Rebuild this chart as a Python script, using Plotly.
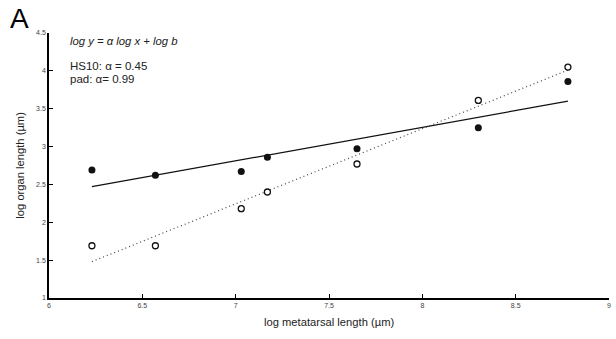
import plotly.graph_objects as go

metatarsal = [6.23, 6.57, 7.03, 7.17, 7.65, 8.30, 8.78]
hs10 = [2.69, 2.62, 2.67, 2.86, 2.97, 3.25, 3.86]
pad = [1.69, 1.69, 2.18, 2.40, 2.77, 3.61, 4.05]

fit_x = [6.23, 8.78]
hs10_fit = [2.47, 3.60]
pad_fit = [1.48, 4.01]

FONT = "Liberation Sans, Arial, sans-serif"

fig = go.Figure()
fig.add_trace(go.Scatter(x=fit_x, y=hs10_fit, mode="lines",
                         line=dict(color="#111111", width=1.2), showlegend=False))
fig.add_trace(go.Scatter(x=fit_x, y=pad_fit, mode="lines",
                         line=dict(color="#444444", width=1.2, dash="1px,3px"), showlegend=False))
fig.add_trace(go.Scatter(x=metatarsal, y=hs10, mode="markers",
                         marker=dict(color="#111111", size=7, line=dict(width=0)),
                         showlegend=False))
fig.add_trace(go.Scatter(x=metatarsal, y=pad, mode="markers",
                         marker=dict(color="white", size=6, line=dict(color="#111111", width=1.3)),
                         showlegend=False))

axis_common = dict(showline=True, linecolor="black", linewidth=1.5, ticks="inside",
                   ticklen=4, tickcolor="black", tickwidth=1, showgrid=False,
                   zeroline=False, ticklabeloverflow="allow",
                   tickfont=dict(size=7, color="#444444", family=FONT))
fig.update_xaxes(range=[6, 9], tickvals=[6, 6.5, 7, 7.5, 8, 8.5, 9], **axis_common)
fig.update_yaxes(range=[1, 4.5], tickvals=[1, 1.5, 2, 2.5, 3, 3.5, 4, 4.5], **axis_common)

fig.update_layout(
    width=616, height=339,
    margin=dict(l=49, r=4.5, t=33, b=41),
    plot_bgcolor="white", paper_bgcolor="white",
    font=dict(family=FONT, color="#222222"),
    annotations=[
        dict(text="A", x=-0.0729, y=1.053, xref="paper", yref="paper", showarrow=False,
             xanchor="left", yanchor="middle", font=dict(size=28, color="black", family=FONT)),
        dict(text="<i>log y = α log x + log b</i>", x=6.10, y=4.40, xref="x", yref="y",
             showarrow=False, xanchor="left", yanchor="middle", font=dict(size=11.3, family=FONT)),
        dict(text="HS10: α = 0.45", x=6.10, y=4.065, xref="x", yref="y",
             showarrow=False, xanchor="left", yanchor="middle", font=dict(size=11.5, family=FONT)),
        dict(text="pad: α= 0.99", x=6.10, y=3.893, xref="x", yref="y",
             showarrow=False, xanchor="left", yanchor="middle", font=dict(size=11.5, family=FONT)),
        dict(text="log metatarsal length (µm)", x=0.5, y=-0.089, xref="paper", yref="paper",
             showarrow=False, xanchor="center", yanchor="middle", font=dict(size=11.2, family=FONT)),
        dict(text="log organ length (µm)", x=-0.0533, y=0.5, xref="paper", yref="paper",
             showarrow=False, xanchor="center", yanchor="middle", textangle=-90,
             font=dict(size=11.2, family=FONT)),
    ],
)

fig.write_html("out.html", config={"displayModeBar": False},
               post_script="document.body.style.margin='0';")
